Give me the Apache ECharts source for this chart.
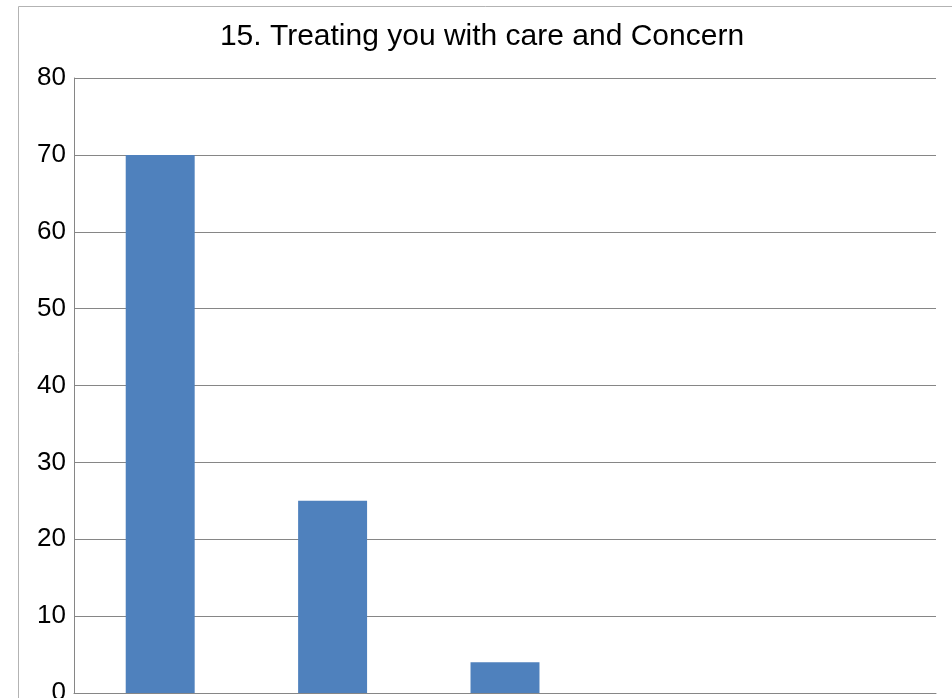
<!DOCTYPE html>
<html>
<head>
<meta charset="utf-8">
<script src="https://cdn.jsdelivr.net/npm/echarts@6/dist/echarts.min.js"></script>
<style>
  html, body { margin: 0; padding: 0; background: #fff; }
  #chart { width: 952px; height: 698px; }
</style>
</head>
<body>
<div id="chart"></div>
<script>
var titleText = '15. Treating you with care and Concern';
var categories = ['Excellent', 'Very Good', 'Good', 'Fair', 'Poor'];
var values = [70, 25, 4, 0, 0];
var yTicks = { min: 0, max: 80, interval: 10 };

var chart = echarts.init(document.getElementById('chart'), null, { renderer: 'canvas' });
var font = 'Liberation Sans, Arial, sans-serif';
chart.setOption({
  animation: false,
  backgroundColor: '#ffffff',
  title: {
    text: titleText,
    left: 477,
    textAlign: 'center',
    top: 17,
    textStyle: { fontFamily: font, fontSize: 30, fontWeight: 'normal', color: '#000000' }
  },
  graphic: [{
    type: 'rect',
    shape: { x: 18.5, y: 6.5, width: 1000, height: 1000 },
    style: { fill: 'none', stroke: '#b3b3b3', lineWidth: 1 },
    silent: true,
    z: -1
  }],
  grid: { left: 74, right: 16, top: 78, bottom: 5, containLabel: false, outerBoundsMode: 'none' },
  xAxis: {
    type: 'category',
    data: categories,
    axisLine: { show: true, lineStyle: { color: '#868686', width: 1 } },
    axisTick: { show: false },
    axisLabel: { show: false },
    splitLine: { show: false }
  },
  yAxis: {
    type: 'value',
    min: yTicks.min,
    max: yTicks.max,
    interval: yTicks.interval,
    axisLine: { show: true, lineStyle: { color: '#868686', width: 1 } },
    axisTick: { show: false },
    axisLabel: { margin: 8, fontFamily: font, fontSize: 26, color: '#000000' },
    splitLine: { show: true, lineStyle: { color: '#868686', width: 1 } }
  },
  series: [{
    type: 'bar',
    data: values,
    barWidth: '40%',
    itemStyle: { color: '#4f81bd' }
  }]
});
</script>
</body>
</html>
